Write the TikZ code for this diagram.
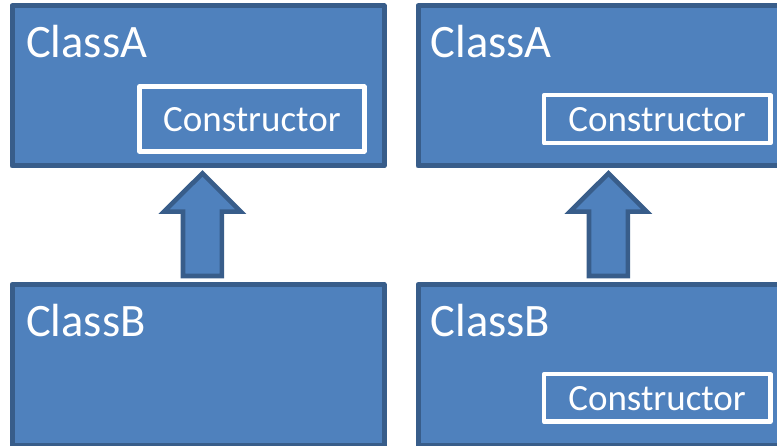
\documentclass[tikz,border=0pt]{standalone}
\usepackage{fontspec}
\setmainfont{Carlito}
\usetikzlibrary{calc}
\definecolor{boxfill}{HTML}{4F81BD}
\definecolor{boxline}{HTML}{385D8A}
\tikzset{
  classbox/.style={draw=boxline, fill=boxfill, line width=5pt, line join=round,
    rectangle, inner sep=0pt, outer sep=0pt, anchor=north west},
  ctorbox/.style={draw=white, fill=boxfill, line width=4.6pt, line join=round,
    rectangle, inner sep=0pt, outer sep=0pt, anchor=north west},
  classlabel/.style={text=white, font=\fontsize{46.5}{55}\selectfont, inner sep=0pt, anchor=base west},
  ctorlabel/.style={text=white, font=\fontsize{37}{44}\selectfont, inner sep=0pt, anchor=base},
  blockarrow/.style={draw=boxline, fill=boxfill, line width=4.6pt, line join=miter}
}
\begin{document}
\begin{tikzpicture}[x=1pt,y=-1pt]
\useasboundingbox (0,0) rectangle (777,446);
\clip (0,0) rectangle (777,446);
% class boxes
\node[classbox, minimum width=372pt, minimum height=160.2pt] (A1) at (12,5.8) {};
\node[classbox, minimum width=372pt, minimum height=160.2pt] (A2) at (418,5.8) {};
\node[classbox, minimum width=372pt, minimum height=160.5pt] (B1) at (12,284.6) {};
\node[classbox, minimum width=372pt, minimum height=160.5pt] (B2) at (418,284.6) {};
% class names
\node[classlabel] (lA1) at (26,58) {ClassA};
\node[classlabel] (lA2) at (430.5,58) {ClassA};
\node[classlabel] (lB1) at (26,336.5) {ClassB};
\node[classlabel] (lB2) at (430.5,336.5) {ClassB};
% constructor boxes
\node[ctorbox, minimum width=224.8pt, minimum height=64.6pt] (cA1) at (139.5,86.7) {};
\node[ctorbox, minimum width=226.2pt, minimum height=48pt] (cA2) at (544,95.2) {};
\node[ctorbox, minimum width=226.2pt, minimum height=47.6pt] (cB2) at (544,374.2) {};
\node[ctorlabel] at ($(cA1.center)+(0,13)$) {Constructor};
\node[ctorlabel] at ($(cA2.center)+(0,12.8)$) {Constructor};
\node[ctorlabel] at ($(cB2.center)+(0,12)$) {Constructor};
% inheritance arrows
\coordinate (t1) at ($(A1.south)+(4.4,7.4)$);
\coordinate (t2) at ($(A2.south)+(4.4,7.4)$);
\draw[blockarrow] (t1) -- ++(38.4,38.2) -- ++(-19,0) -- ++(0,64.4) -- ++(-38.8,0) -- ++(0,-64.4) -- ++(-19,0) -- cycle;
\draw[blockarrow] (t2) -- ++(38.4,38.2) -- ++(-19,0) -- ++(0,64.4) -- ++(-38.8,0) -- ++(0,-64.4) -- ++(-19,0) -- cycle;
\end{tikzpicture}
\end{document}
